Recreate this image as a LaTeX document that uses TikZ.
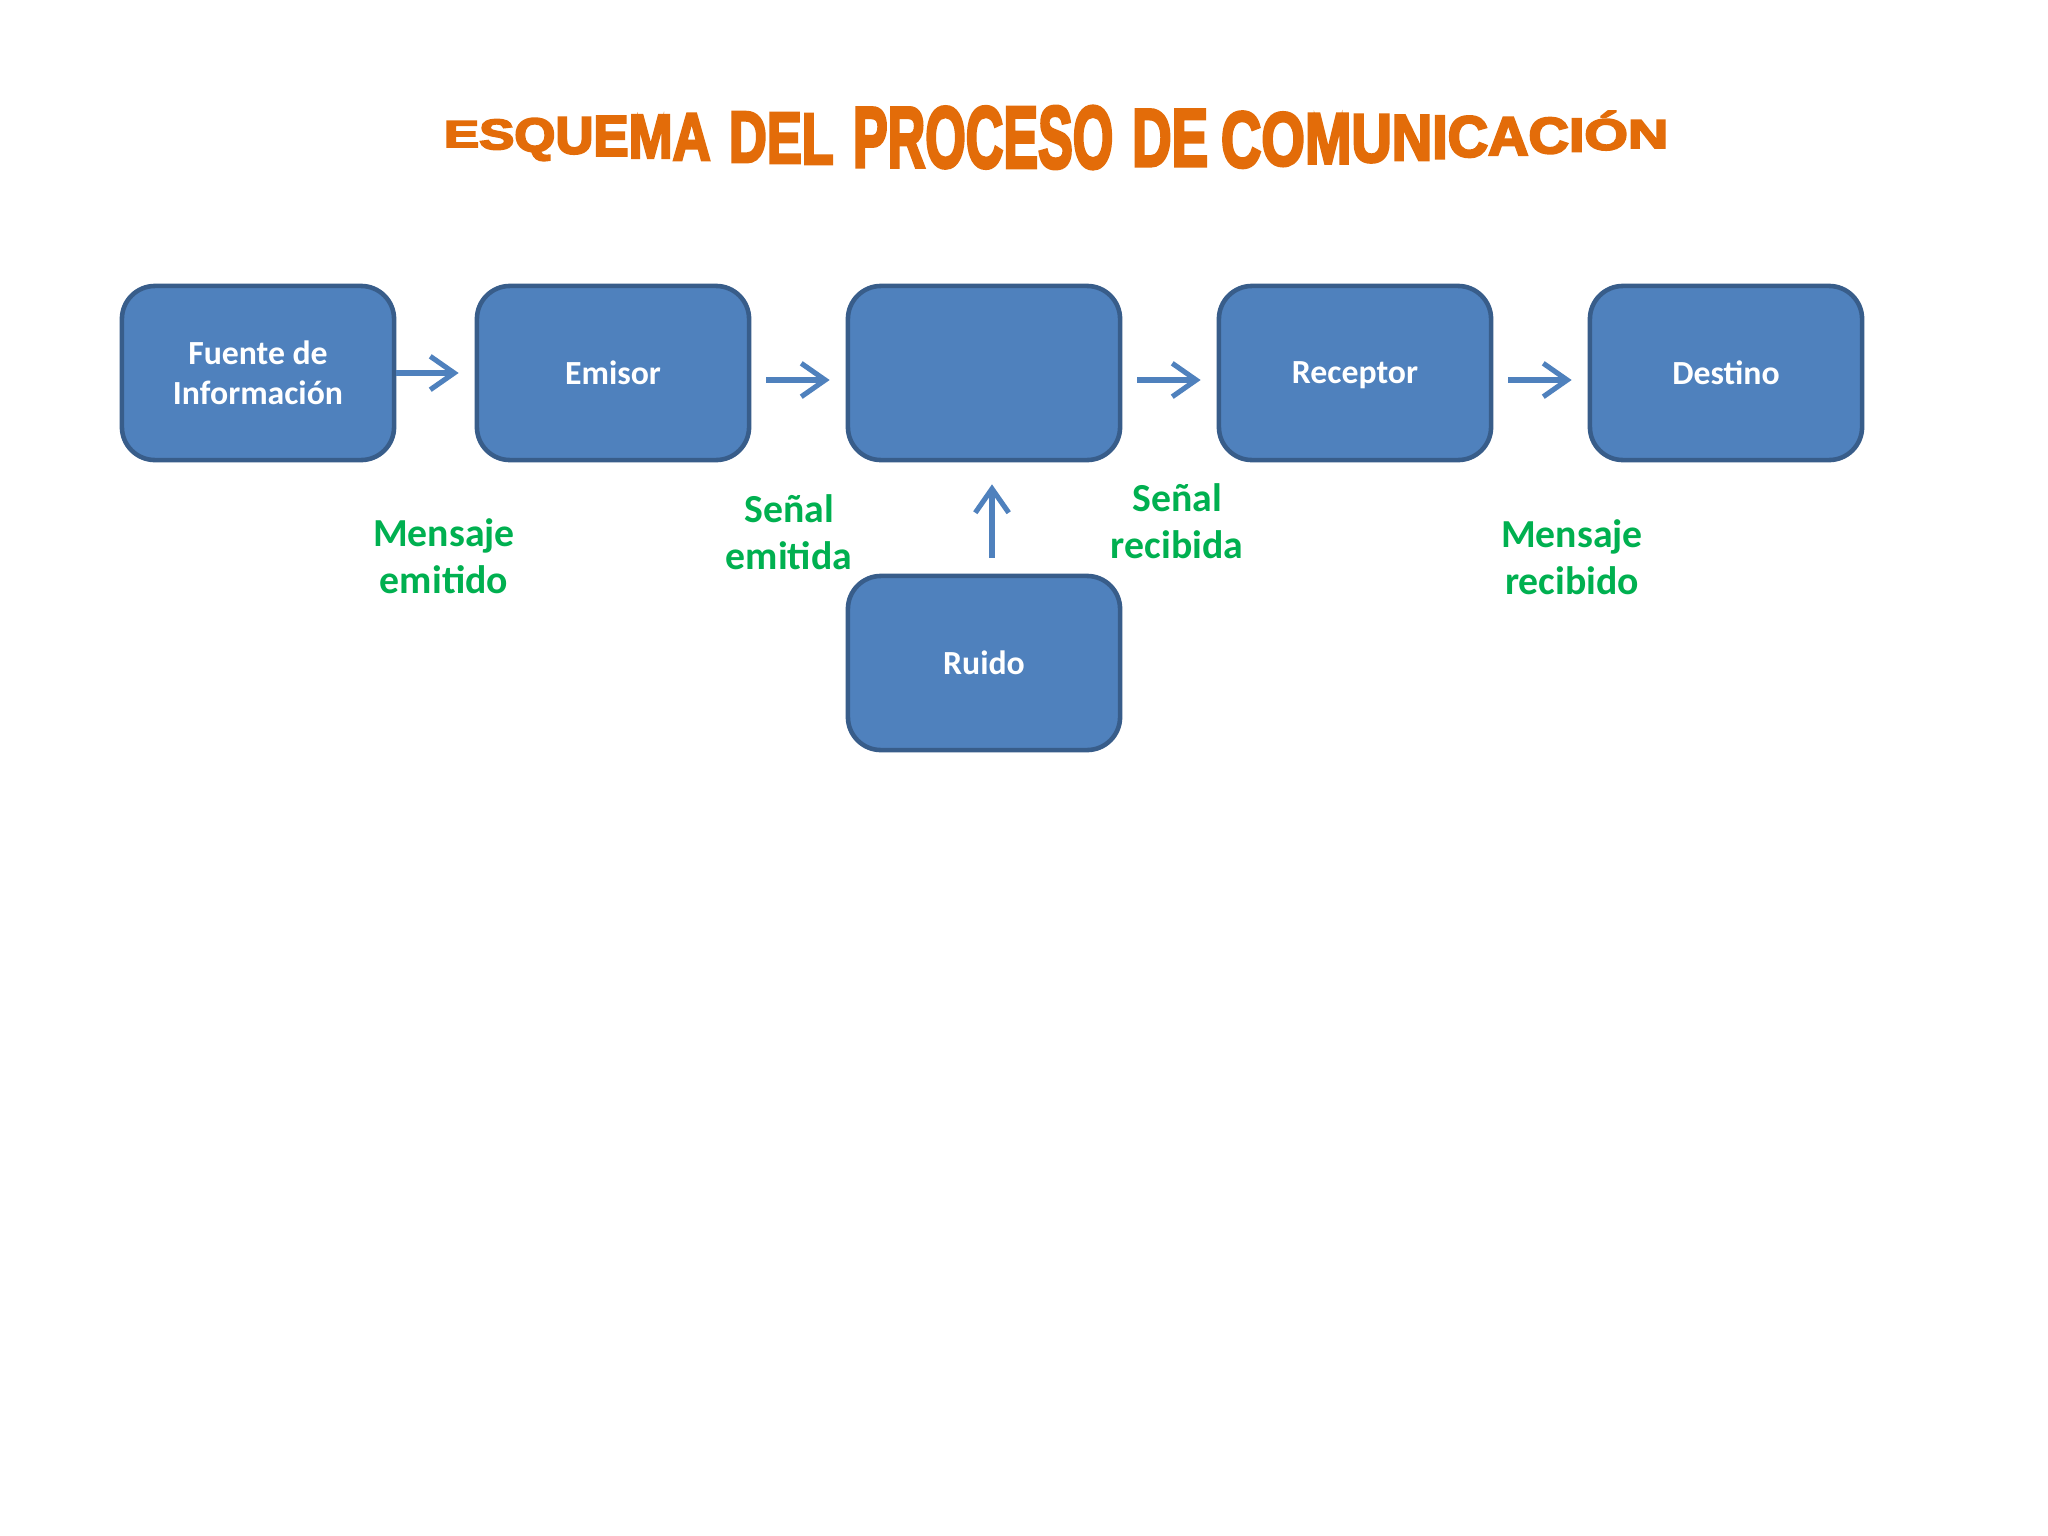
\documentclass[tikz,border=0pt]{standalone}
\usepackage{fontspec}
\usepackage{graphicx}
\setmainfont{Carlito}
\newfontfamily\tfont[BoldFeatures={FakeBold=4}]{Liberation Sans}
\usetikzlibrary{arrows.meta}
\definecolor{boxfill}{HTML}{4F81BD}
\definecolor{boxline}{HTML}{385D8A}
\definecolor{lblgreen}{HTML}{00B050}
\definecolor{ttlorange}{HTML}{E36C09}
\tikzset{
  box/.style={rounded corners=0.33cm, minimum width=2.72cm, minimum height=1.74cm,
    fill=boxfill, draw=boxline, line width=1.3pt, text=white, align=center,
    font=\bfseries\fontsize{9.6}{11.4}\selectfont},
  lbl/.style={text=lblgreen, align=center, font=\bfseries\fontsize{11.3}{13.4}\selectfont},
  arr/.style={draw=boxfill, line width=1.45pt, -{Straight Barb[length=6.8pt,width=9.5pt,line width=1.45pt]}},
  tletter/.style={inner sep=0pt, outer sep=0pt, text=ttlorange, font=\tfont\bfseries\fontsize{10}{12}\selectfont},
  anchorpt/.style={inner sep=0pt, outer sep=0pt, minimum size=0pt}
}
% #1 prefix, #2 letters, #3 n-1, #4 x0, #5 xscale, #6 h first, #7 h last, #8 base first, #9 base last
\newcommand\waword[9]{%
  \node[anchorpt] (#1-0) at (#4,0) {};
  \foreach \L [count=\i from 1] in {#2} {%
    \pgfmathsetmacro\wat{(\i-1)/#3}%
    \pgfmathsetmacro\wah{#6+\wat*(#7-#6)}%
    \pgfmathsetmacro\wab{#8+\wat*(#9-#8)}%
    \pgfmathsetmacro\way{\wah/26.2}%
    \pgfmathtruncatemacro\waj{\i-1}%
    \node[tletter, anchor=base west] (#1-\i) at (#1-\waj.east |- 0,\wab) {\scalebox{#5}[\way]{\L}};
  }}
\begin{document}
\begin{tikzpicture}[x=0.01cm, y=-0.01cm]
\fill[white] (0,0) rectangle (2048,1536);
\useasboundingbox (0,0) rectangle (2048,1536);

% title
\waword{wa}{E,S,Q,U,E,M,A}{6}{444}{1.50}{28}{50}{147}{160}
\waword{wb}{D,E,L}{2}{729}{1.49}{54}{54}{162}{164}
\waword{wc}{P,R,O,C,E,S,O}{6}{853}{1.48}{64}{66}{167}{168}
\waword{wd}{D,E}{1}{1132}{1.56}{61}{61}{166}{166}
\waword{we}{C,O,M,U,N,I,C,A,C,I,Ó,N}{11}{1221}{1.59}{59}{30}{167}{148}

% boxes
\node[box] (fuente) at (258,373) {Fuente de\\Información};
\node[box] (emisor) at (613,373) {Emisor};
\node[box] (canal) at (984,373) {};
\node[box] (receptor) at (1355,373) {\raisebox{0pt}[\height][0pt]{Receptor}};
\node[box] (destino) at (1726,373) {Destino};
\node[box] (ruido) at (984,663) {Ruido};

% connectors
\draw[arr] (fuente.east) -- ([xshift=-0.16cm]emisor.west);
\draw[arr] ([shift={(0.15cm,-0.07cm)}]emisor.east) -- ([shift={(-0.16cm,-0.07cm)}]canal.west);
\draw[arr] ([shift={(0.15cm,-0.07cm)}]canal.east) -- ([shift={(-0.16cm,-0.07cm)}]receptor.west);
\draw[arr] ([shift={(0.15cm,-0.07cm)}]receptor.east) -- ([shift={(-0.16cm,-0.07cm)}]destino.west);
\draw[arr] ([shift={(0.08cm,0.16cm)}]ruido.north) -- ([shift={(0.08cm,-0.22cm)}]canal.south);

% labels
\node[lbl] (l1) at (444,556) {Mensaje\\emitido};
\node[lbl] (l2) at (789,532) {Señal\\emitida};
\node[lbl] (l3) at (1177,521) {Señal\\recibida};
\node[lbl] (l4) at (1572,557) {Mensaje\\recibido};
\end{tikzpicture}
\end{document}
